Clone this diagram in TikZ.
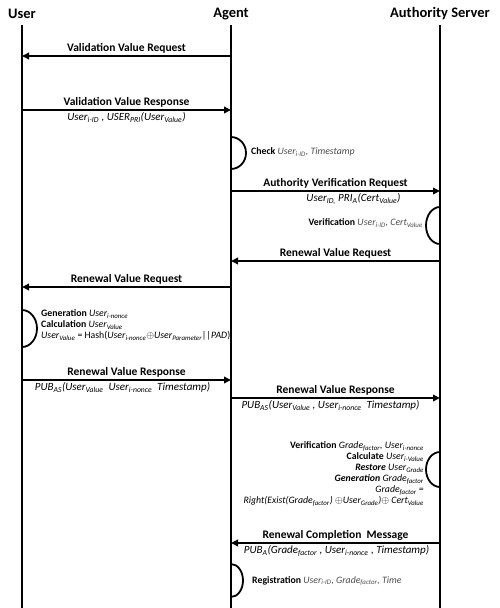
\documentclass[tikz,border=0pt]{standalone}
\usepackage{fontspec}
\setmainfont{Carlito}
\usetikzlibrary{arrows.meta,calc}
\newcommand{\sbs}[1]{\textsubscript{#1}}

\begin{document}
\begin{tikzpicture}[x=1pt, y=-1pt,
  head/.style={font=\fontsize{14.5}{16}\selectfont\bfseries, inner sep=0pt},
  life/.style={line width=1.8pt},
  arrow/.style={-{Triangle[length=7pt,width=6.5pt]}, line width=1.8pt},
  lbl/.style={font=\fontsize{11.5}{13}\selectfont\bfseries, inner sep=2pt},
  param/.style={font=\fontsize{11}{12}\selectfont\itshape, inner sep=2.5pt},
  note/.style={font=\fontsize{9.8}{11}\selectfont, inner sep=0pt},
  self/.style={line width=1.8pt}]
\useasboundingbox (0,0) rectangle (500,608);
% lifelines
\node[head] (user)  at (22,14)  {User};
\node[head] (agent) at (231,14) {Agent};
\node[head] (auth)  at (440,14) {Authority Server};
\foreach \n in {user,agent,auth}
  \draw[life] (\n |- 0,25) coordinate (\n top) -- (\n |- 0,608) coordinate (\n end);
% messages: name, y, from, to, label
\def\msg#1#2#3#4#5{%
  \coordinate (#1s) at (#3 |- 0,#2);
  \coordinate (#1e) at (#4 |- 0,#2);
  \draw[arrow] (#1s) -- node[lbl, above] (#1l) {#5} (#1e);}
\msg{m1}{56}{agent}{user}{Validation Value Request}
\msg{m2}{110}{user}{agent}{Validation Value Response}
\msg{m3}{191}{agent}{auth}{Authority Verification Request}
\msg{m4}{261}{auth}{agent}{Renewal Value Request}
\msg{m5}{287}{agent}{user}{Renewal Value Request}
\msg{m6}{380}{user}{agent}{Renewal Value Response}
\msg{m7}{398}{agent}{auth}{Renewal Value Response}
\msg{m8}{543}{auth}{agent}{Renewal Completion~~Message}
% parameters under the arrows
\node[param, below] (p2) at ($(m2s)!0.5!(m2e)$) {User\sbs{i-ID}~, USER\sbs{PRI}(User\sbs{Value})};
\node[param, below, xshift=18pt] (p3) at ($(m3s)!0.5!(m3e)$) {User\sbs{ID,} PRI\sbs{A}(Cert\sbs{Value})};
\node[param, below, xshift=-4pt] (p6) at ($(m6s)!0.5!(m6e)$) {PUB\sbs{AS}(User\sbs{Value}~~User\sbs{i-nonce}~~Timestamp)};
\node[param, below, xshift=-5pt] (p7) at ($(m7s)!0.5!(m7e)$) {PUB\sbs{AS}(User\sbs{Value}~, User\sbs{i-nonce}~~Timestamp)};
\node[param, below, xshift=1pt] (p8) at ($(m8s)!0.5!(m8e)$) {PUB\sbs{A}(Grade\sbs{factor}~, User\sbs{i-nonce}~, Timestamp)};
% local steps
\draw[self] (agent |- 0,137) coordinate (c1) arc[start angle=90, end angle=-90, x radius=15pt, y radius=16pt];
\node[note, anchor=west] (n1) at (251,152) {\textbf{Check} \textcolor{black!70}{\itshape User\sbs{i-ID}, Timestamp}};
\draw[self] (auth |- 0,207) coordinate (c2) arc[start angle=90, end angle=270, x radius=14pt, y radius=18.5pt];
\node[note, anchor=east] (n2) at (423,223) {\textbf{Verification} \textcolor{black!70}{\itshape User\sbs{i-ID}, Cert\sbs{Value}}};
\draw[self] (user |- 0,310) coordinate (c3) arc[start angle=90, end angle=-90, x radius=15pt, y radius=18.5pt];
\node[note, anchor=west, align=left] (n3) at (41,325) {\textbf{Generation} {\itshape User\sbs{i-nonce}}\\
  \textbf{Calculation} {\itshape User\sbs{Value}}\\
  {\itshape User\sbs{Value}} = Hash({\itshape User\sbs{i-nonce}}$\oplus${\itshape User\sbs{Parameter}||PAD})};
\draw[self] (auth |- 0,452) coordinate (c4) arc[start angle=90, end angle=270, x radius=14pt, y radius=17.5pt];
\node[note, anchor=east, align=right] (n4) at (424,474) {\textbf{Verification} {\itshape Grade\sbs{factor}, User\sbs{i-nonce}}\\
  \textbf{Calculate} {\itshape User\sbs{i-Value}}\\
  \textbf{\itshape Restore} {\itshape User\sbs{Grade}}\\
  \textbf{\itshape Generation} {\itshape Grade\sbs{factor}}\\
  {\itshape Grade\sbs{factor} =}\\
  {\itshape Right(Exist(Grade\sbs{factor}) $\oplus$User\sbs{Grade})$\oplus$ Cert\sbs{Value}}};
\draw[self] (agent |- 0,564) coordinate (c5) arc[start angle=90, end angle=-90, x radius=12pt, y radius=16.5pt];
\node[note, anchor=west] (n5) at (252,581) {\textbf{Registration} \textcolor{black!70}{\itshape User\sbs{i-ID}, Grade\sbs{factor}, Time}};
\end{tikzpicture}
\end{document}
